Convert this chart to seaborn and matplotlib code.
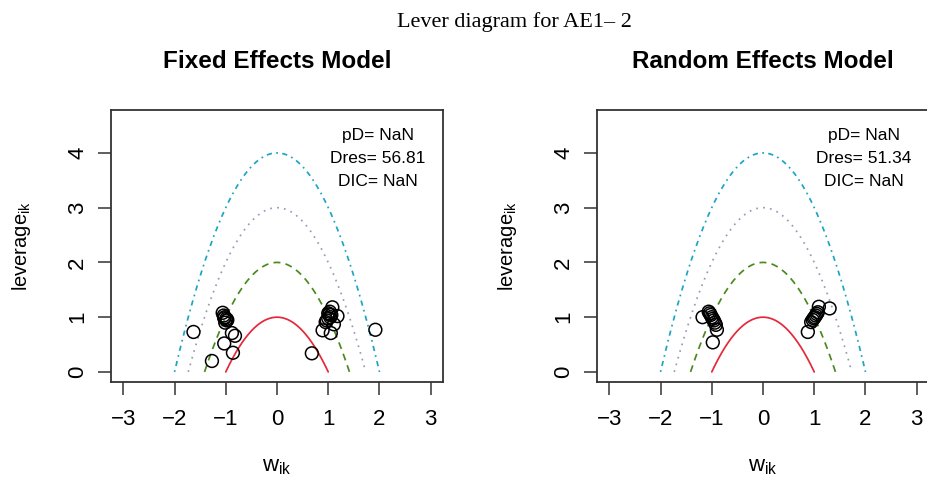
import numpy as np
import pandas as pd
import matplotlib
matplotlib.use("Agg")
import matplotlib.pyplot as plt
import seaborn as sns

sns.set_style("white")
plt.rcParams['font.family'] = ['Liberation Sans', 'DejaVu Sans']
plt.rcParams['text.color'] = 'black'
plt.rcParams['axes.labelcolor'] = 'black'
plt.rcParams['xtick.color'] = 'black'
plt.rcParams['ytick.color'] = 'black'

# reference parabolas: leverage = c - w^2
curve_levels = [1, 2, 3, 4]
curve_colors = ['#e5283a', '#4a8a1e', '#9a9ab8', '#1aa6c2']
curve_dashes = [(None, None), (4, 3), (1, 3), (1, 2.5, 3, 2.5)]

# Fixed effects model points
fe_w = [-1.63, -1.27, -1.06, -1.04, -1.02, -0.99, -0.98, -1.01, -0.97, -1.03,
        -0.88, -0.82, -1.03, -0.86, 0.68, 0.89, 1.05, 1.11, 0.97, 1.0,
        1.18, 1.08, 1.02, 1.04, 1.0, 1.03, 1.06, 0.95, 1.92]
fe_lev = [0.73, 0.20, 1.08, 1.03, 1.0, 0.97, 0.94, 0.90, 0.95, 0.98,
          0.71, 0.66, 0.52, 0.35, 0.34, 0.76, 0.71, 0.87, 0.94, 1.07,
          1.02, 1.18, 1.05, 1.0, 0.98, 1.1, 1.04, 0.91, 0.77]

# Random effects model points
re_w = [-1.18, -1.06, -1.04, -1.02, -1.0, -0.98, -0.96, -0.94, -0.92, -0.90,
        -0.98, 0.875, 0.94, 0.97, 0.99, 1.01, 1.03, 1.05, 1.07, 1.09, 1.30]
re_lev = [1.0, 1.10, 1.07, 1.04, 1.0, 0.97, 0.94, 0.90, 0.86, 0.77,
          0.54, 0.73, 0.91, 0.95, 0.98, 1.0, 1.03, 1.06, 1.09, 1.19, 1.16]

panels = [
    ("Fixed Effects Model", fe_w, fe_lev, ["pD= NaN", "Dres= 56.81", "DIC= NaN"]),
    ("Random Effects Model", re_w, re_lev, ["pD= NaN", "Dres= 51.34", "DIC= NaN"]),
]

fig = plt.figure(figsize=(9.27, 4.79), dpi=100)
lefts = [111 / 927, 597 / 927]

for left, (title, w, lev, stats) in zip(lefts, panels):
    ax = fig.add_axes([left, 97 / 479, 332 / 927, 272 / 479])
    for c, col, dash in zip(curve_levels, curve_colors, curve_dashes):
        xs = np.linspace(-np.sqrt(c), np.sqrt(c), 200)
        sns.lineplot(x=xs, y=c - xs ** 2, ax=ax, color=col, lw=1.25,
                     sort=False, estimator=None)
        line = ax.get_lines()[-1]
        if dash[0] is not None:
            line.set_dashes(dash)
    df = pd.DataFrame({"w": w, "lev": lev})
    sns.scatterplot(data=df, x="w", y="lev", ax=ax, s=85, marker='o',
                    facecolor='none', edgecolor='black', linewidth=1.1, zorder=5)
    for i, s in enumerate(stats):
        ax.text(1.97, 4.32 - i * 0.42, s, ha='center', va='center', fontsize=12.5)
    ax.set_xlim(-3.24, 3.24)
    ax.set_ylim(-0.184, 4.784)
    ax.set_xticks([-3, -2, -1, 0, 1, 2, 3])
    ax.set_xticklabels(['\u22123', '\u22122', '\u22121', '0', '1', '2', '3'])
    ax.set_yticks([0, 1, 2, 3, 4])
    ax.tick_params(axis='both', direction='out', length=9.5, width=1.1,
                   color='#333333', labelsize=16, bottom=True, left=True)
    ax.tick_params(axis='x', pad=10)
    ax.tick_params(axis='y', pad=7)
    for t in ax.get_yticklabels():
        t.set_rotation(90)
        t.set_va('center')
    for sp in ax.spines.values():
        sp.set_visible(True)
        sp.set_color('#333333')
        sp.set_linewidth(1.3)
    ax.set_xlabel('w$_\\mathregular{ik}$', fontsize=16)
    ax.xaxis.set_label_coords(0.5, -0.31)
    ax.xaxis.label.set_va('center')
    ax.set_ylabel('leverage$_\\mathregular{ik}$', fontsize=14.5)
    ax.yaxis.set_label_coords(-0.27, 0.5)
    ax.yaxis.label.set_va('center')
    ax.set_title(title, fontsize=17.5, fontweight='bold', y=1.18, va='center', pad=0)

fig.text(514 / 927, 1 - 22 / 479, "Lever diagram for AE1\u2013 2", ha='center', va='center',
         fontsize=16, family=['Liberation Serif', 'DejaVu Serif'])

fig.savefig("out.png", dpi=100)
